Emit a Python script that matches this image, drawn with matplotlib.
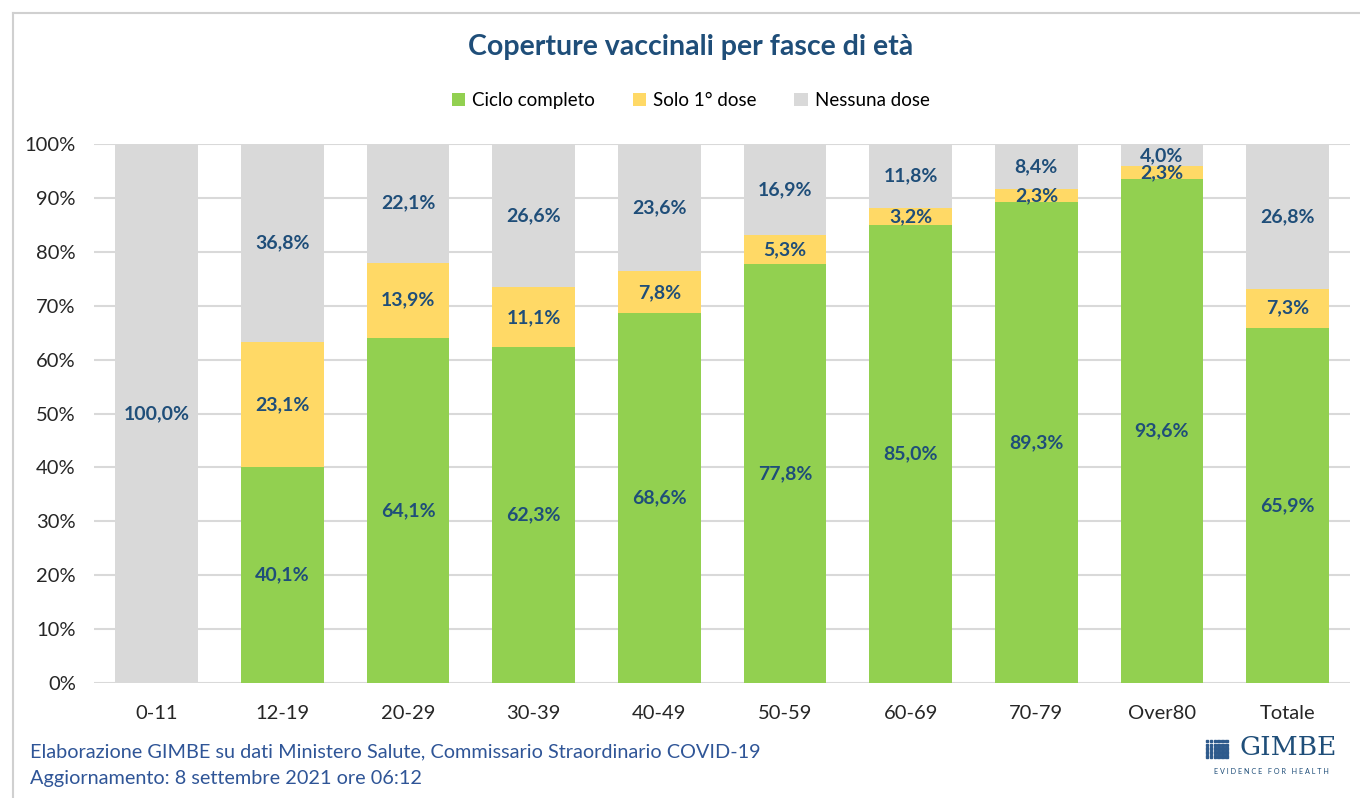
import matplotlib.pyplot as plt
from matplotlib.lines import Line2D
from matplotlib.patches import Patch, Rectangle
import numpy as np

plt.rcParams['font.family'] = ['Lato', 'DejaVu Sans']

# Data
categories = ["0-11", "12-19", "20-29", "30-39", "40-49", "50-59",
              "60-69", "70-79", "Over80", "Totale"]
ciclo_completo = [0.0, 40.1, 64.1, 62.3, 68.6, 77.8, 85.0, 89.3, 93.6, 65.9]
solo_prima_dose = [0.0, 23.1, 13.9, 11.1, 7.8, 5.3, 3.2, 2.3, 2.3, 7.3]
nessuna_dose = [100.0, 36.8, 22.1, 26.6, 23.6, 16.9, 11.8, 8.4, 4.0, 26.8]
series_names = ["Ciclo completo", "Solo 1° dose", "Nessuna dose"]

colors = ["#92D050", "#FFD966", "#D9D9D9"]
label_color = "#1F4E79"

fig = plt.figure(figsize=(13.6, 7.98), dpi=100)
ax = fig.add_axes([0.069, 0.144, 0.924, 0.6755])

x = np.arange(len(categories))
width = 0.66
bottom = np.zeros(len(categories))
for vals, col in zip([ciclo_completo, solo_prima_dose, nessuna_dose], colors):
    vals = np.array(vals)
    ax.bar(x, vals, width, bottom=bottom, color=col, zorder=2)
    for xi, b, v in zip(x, bottom, vals):
        if v > 0:
            ax.text(xi, b + v / 2, f"{v:.1f}%".replace(".", ","),
                    ha='center', va='center', fontsize=14,
                    fontweight='bold', color=label_color, zorder=3)
    bottom += vals

ax.set_xlim(-0.5, len(categories) - 0.5)
ax.set_ylim(0, 100)
ax.set_yticks(np.arange(0, 101, 10))
ax.set_yticklabels([f"{t}%" for t in range(0, 101, 10)])
ax.set_xticks(x)
ax.set_xticklabels(categories)
ax.tick_params(axis='both', length=0, labelsize=14.5, colors="#262626")
ax.tick_params(axis='y', pad=13)
ax.tick_params(axis='x', pad=16)
ax.yaxis.grid(True, color="#D9D9D9", linewidth=1.5, zorder=0)
ax.set_axisbelow(True)
for s in ax.spines.values():
    s.set_visible(False)

# Title and legend
fig.text(0.508, 0.941, "Coperture vaccinali per fasce di età", ha='center',
         va='center', fontsize=20.5, fontweight='bold', color=label_color)
handles = [Patch(facecolor=c, edgecolor='none') for c in colors]
fig.legend(handles, series_names, loc='center', bbox_to_anchor=(0.508, 0.874),
           ncol=3, frameon=False, fontsize=13.5, handlelength=0.7,
           handleheight=0.7, handletextpad=0.4, columnspacing=2.0)

# Footer
fig.text(0.022, 0.058, "Elaborazione GIMBE su dati Ministero Salute, "
         "Commissario Straordinario COVID-19", ha='left', va='center',
         fontsize=14.3, color="#2F5597")
fig.text(0.022, 0.024, "Aggiornamento: 8 settembre 2021 ore 06:12",
         ha='left', va='center', fontsize=14.3, color="#2F5597")

# Logo
for i in range(6):
    for j in range(5):
        fig.add_artist(Rectangle((0.8865 + i * 0.0029, 0.0505 + j * 0.0048),
                                 0.0019, 0.0033, color="#2E5A8C",
                                 transform=fig.transFigure))
fig.text(0.9475, 0.063, "GIMBE", ha='center', va='center', fontsize=19,
         family='DejaVu Serif', color="#1F4E79")
fig.text(0.935, 0.033, "E V I D E N C E   F O R   H E A L T H", ha='center',
         va='center', fontsize=5.2, color="#1F4E79")

# Border lines
fig.add_artist(Line2D([0.0095, 1.0], [0.9835, 0.9835], color="#D0D0D0",
                      linewidth=1.5, transform=fig.transFigure))
fig.add_artist(Line2D([0.0095, 0.0095], [0.0, 0.9835], color="#D0D0D0",
                      linewidth=1.5, transform=fig.transFigure))

fig.savefig("out.png", dpi=100)
